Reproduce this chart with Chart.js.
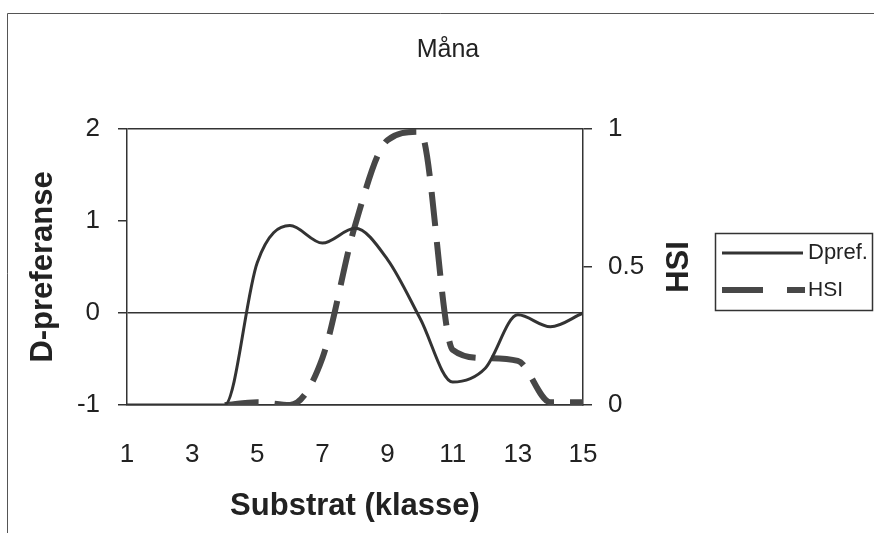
<!DOCTYPE html>
<html>
<head>
<meta charset="utf-8">
<title>Måna</title>
<script src="https://cdn.jsdelivr.net/npm/chart.js@4.4.0/dist/chart.umd.min.js"></script>
<style>
  html, body { margin: 0; padding: 0; background: #fff; }
  #wrap { position: relative; width: 874px; height: 533px; }
</style>
</head>
<body>
<div id="wrap"><canvas id="manaChart" width="874" height="533"></canvas></div>
<script>
// verdier lest av figuren
const klasse = [1, 2, 3, 4, 5, 6, 7, 8, 9, 10, 11, 12, 13, 14, 15];
const dpref = [-1, -1, -1, -1, 0.55, 0.95, 0.76, 0.92, 0.58, -0.06, -0.75, -0.6, -0.02, -0.15, 0];
const hsi = [null, null, null, 0, 0.01, 0, 0.17, 0.65, 0.96, 0.99, 0.2, 0.17, 0.16, 0.01, 0.01];
const xTicks = [1, 3, 5, 7, 9, 11, 13, 15];
const leftTicks = [-1, 0, 1, 2];
const rightTicks = [0, 0.5, 1];

const FONT = '"Liberation Sans", Arial, sans-serif';
const INK = '#222';
const LINE = '#333';

Chart.defaults.font.family = FONT;
Chart.defaults.color = INK;

function points(ys) {
    return klasse.map((x, i) => ({ x: x, y: ys[i] }));
}

// ramme, HSI-tittel og forklaring tegnes for hand
const extrasPlugin = {
    id: 'extras',
    beforeDraw(chart) {
        const ctx = chart.ctx;
        ctx.save();
        ctx.strokeStyle = '#555';
        ctx.lineWidth = 1;
        ctx.beginPath();
        ctx.moveTo(7.5, 533);
        ctx.lineTo(7.5, 13.5);
        ctx.lineTo(874, 13.5);
        ctx.stroke();
        ctx.restore();
    },
    afterDraw(chart) {
        const ctx = chart.ctx;
        const area = chart.chartArea;
        ctx.save();
        // HSI axis title, reads bottom to top
        ctx.translate(679, (area.top + area.bottom) / 2);
        ctx.rotate(-Math.PI / 2);
        ctx.font = 'bold 31px ' + FONT;
        ctx.fillStyle = INK;
        ctx.textAlign = 'center';
        ctx.textBaseline = 'middle';
        ctx.fillText('HSI', 0, 0);
        ctx.restore();

        // legend
        ctx.save();
        ctx.strokeStyle = '#333';
        ctx.lineWidth = 1.5;
        ctx.strokeRect(715.5, 233.5, 157, 77);
        ctx.strokeStyle = LINE;
        ctx.lineWidth = 3;
        ctx.beginPath();
        ctx.moveTo(722, 253);
        ctx.lineTo(803, 253);
        ctx.stroke();
        ctx.strokeStyle = '#474747';
        ctx.lineWidth = 6;
        ctx.setLineDash([41, 24]);
        ctx.beginPath();
        ctx.moveTo(722, 290);
        ctx.lineTo(805, 290);
        ctx.stroke();
        ctx.setLineDash([]);
        ctx.fillStyle = INK;
        ctx.textBaseline = 'middle';
        ctx.font = '22px ' + FONT;
        ctx.fillText('Dpref.', 808, 253);
        ctx.font = '21px ' + FONT;
        ctx.fillText('HSI', 808, 290);
        ctx.restore();
    }
};

new Chart(document.getElementById('manaChart'), {
    type: 'line',
    data: {
        datasets: [
            {
                label: 'Dpref.',
                data: points(dpref),
                yAxisID: 'y',
                borderColor: LINE,
                borderWidth: 3,
                pointRadius: 0,
                cubicInterpolationMode: 'monotone',
                order: 1
            },
            {
                label: 'HSI',
                data: points(hsi),
                yAxisID: 'y1',
                borderColor: '#474747',
                borderWidth: 6,
                borderDash: [34, 16],
                borderCapStyle: 'butt',
                pointRadius: 0,
                cubicInterpolationMode: 'monotone',
                spanGaps: false,
                order: 2
            }
        ]
    },
    options: {
        responsive: false,
        animation: false,
        devicePixelRatio: 1,
        layout: { padding: { left: 22, right: 0, top: 0, bottom: 0 } },
        plugins: {
            legend: { display: false },
            tooltip: { enabled: false },
            title: {
                display: true,
                text: 'Måna',
                color: INK,
                font: { size: 25, weight: 'normal' },
                padding: { top: 35, bottom: 64 }
            }
        },
        scales: {
            x: {
                type: 'linear',
                min: 1,
                max: 15,
                afterBuildTicks: s => { s.ticks = xTicks.map(v => ({ value: v })); },
                afterFit: s => { s.height = 128; },
                ticks: { font: { size: 26 }, padding: 26, maxRotation: 0, callback: v => String(v) },
                grid: { display: false },
                border: { display: true, color: '#333', width: 1.5 },
                title: {
                    display: true,
                    text: 'Substrat (klasse)',
                    font: { size: 31, weight: 'bold' },
                    padding: { top: 0, bottom: 8 }
                }
            },
            y: {
                position: 'left',
                min: -1,
                max: 2,
                afterBuildTicks: s => { s.ticks = leftTicks.map(v => ({ value: v })); },
                afterFit: s => { s.width = 105; },
                ticks: { font: { size: 26 }, padding: 18, callback: v => String(v) },
                grid: {
                    color: c => (c.tick && c.tick.value === 1 ? 'rgba(0,0,0,0)' : '#333'),
                    lineWidth: 1.5,
                    tickColor: '#333',
                    tickLength: 9
                },
                border: { display: true, color: '#333', width: 1.5 },
                title: {
                    display: true,
                    text: 'D-preferanse',
                    font: { size: 31, weight: 'bold' },
                    padding: { top: 3, bottom: 0 }
                }
            },
            y1: {
                position: 'right',
                min: 0,
                max: 1,
                afterBuildTicks: s => { s.ticks = rightTicks.map(v => ({ value: v })); },
                afterFit: s => { s.width = 291; },
                ticks: { font: { size: 26 }, padding: 16, callback: v => String(v) },
                grid: { drawOnChartArea: false, color: '#333', lineWidth: 1.5, tickLength: 9 },
                border: { display: true, color: '#333', width: 1.5 }
            }
        }
    },
    plugins: [extrasPlugin]
});
</script>
</body>
</html>
